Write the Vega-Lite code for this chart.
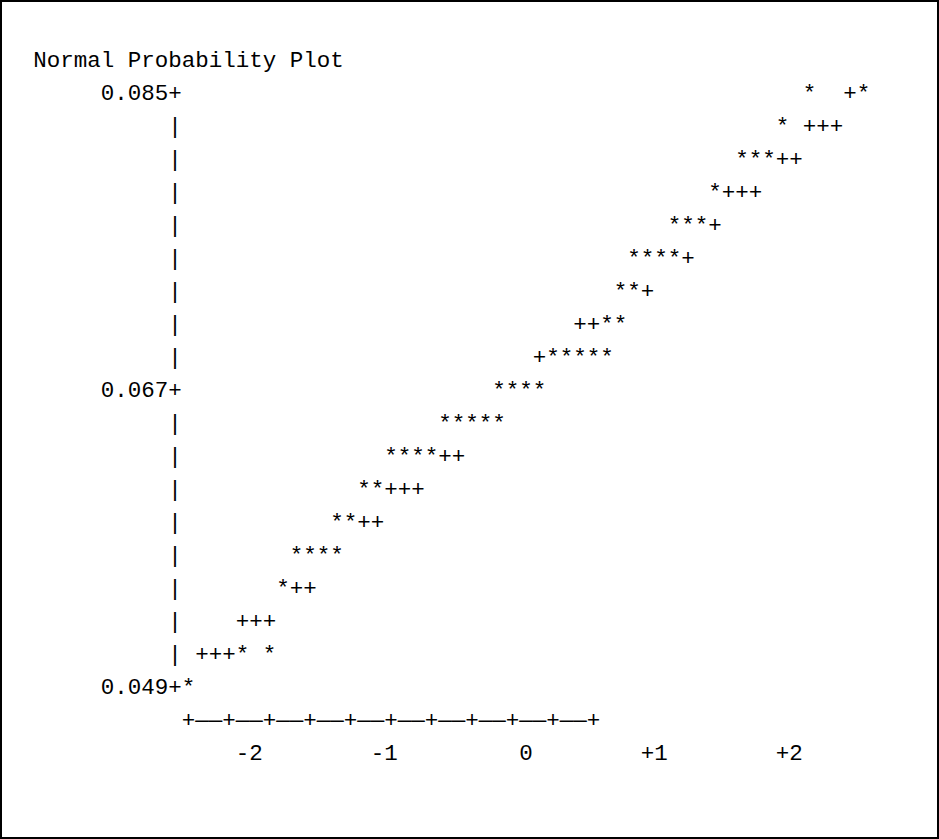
{
  "$schema": "https://vega.github.io/schema/vega-lite/v6.json",
  "autosize": {"type": "fit", "contains": "padding"},
  "width": 939,
  "height": 839,
  "padding": 0,
  "background": "white",
  "config": {
    "view": {"stroke": "black", "strokeWidth": 4},
    "text": {"font": "Liberation Mono", "fontSize": 22.5, "baseline": "alphabetic", "fill": "black"}
  },
  "datasets": {
    "glyphs": [
      {"q": 2.1, "v": 0.085, "glyph": "*"}, {"q": 2.4, "v": 0.085, "glyph": "+"}, {"q": 2.5, "v": 0.085, "glyph": "*"},
      {"q": 1.9, "v": 0.083, "glyph": "*"}, {"q": 2.1, "v": 0.083, "glyph": "+"}, {"q": 2.2, "v": 0.083, "glyph": "+"}, {"q": 2.3, "v": 0.083, "glyph": "+"},
      {"q": 1.6, "v": 0.081, "glyph": "*"}, {"q": 1.7, "v": 0.081, "glyph": "*"}, {"q": 1.8, "v": 0.081, "glyph": "*"}, {"q": 1.9, "v": 0.081, "glyph": "+"}, {"q": 2.0, "v": 0.081, "glyph": "+"},
      {"q": 1.4, "v": 0.079, "glyph": "*"}, {"q": 1.5, "v": 0.079, "glyph": "+"}, {"q": 1.6, "v": 0.079, "glyph": "+"}, {"q": 1.7, "v": 0.079, "glyph": "+"},
      {"q": 1.1, "v": 0.077, "glyph": "*"}, {"q": 1.2, "v": 0.077, "glyph": "*"}, {"q": 1.3, "v": 0.077, "glyph": "*"}, {"q": 1.4, "v": 0.077, "glyph": "+"},
      {"q": 0.8, "v": 0.075, "glyph": "*"}, {"q": 0.9, "v": 0.075, "glyph": "*"}, {"q": 1.0, "v": 0.075, "glyph": "*"}, {"q": 1.1, "v": 0.075, "glyph": "*"}, {"q": 1.2, "v": 0.075, "glyph": "+"},
      {"q": 0.7, "v": 0.073, "glyph": "*"}, {"q": 0.8, "v": 0.073, "glyph": "*"}, {"q": 0.9, "v": 0.073, "glyph": "+"},
      {"q": 0.4, "v": 0.071, "glyph": "+"}, {"q": 0.5, "v": 0.071, "glyph": "+"}, {"q": 0.6, "v": 0.071, "glyph": "*"}, {"q": 0.7, "v": 0.071, "glyph": "*"},
      {"q": 0.1, "v": 0.069, "glyph": "+"}, {"q": 0.2, "v": 0.069, "glyph": "*"}, {"q": 0.3, "v": 0.069, "glyph": "*"}, {"q": 0.4, "v": 0.069, "glyph": "*"}, {"q": 0.5, "v": 0.069, "glyph": "*"}, {"q": 0.6, "v": 0.069, "glyph": "*"},
      {"q": -0.2, "v": 0.067, "glyph": "*"}, {"q": -0.1, "v": 0.067, "glyph": "*"}, {"q": 0.0, "v": 0.067, "glyph": "*"}, {"q": 0.1, "v": 0.067, "glyph": "*"},
      {"q": -0.6, "v": 0.065, "glyph": "*"}, {"q": -0.5, "v": 0.065, "glyph": "*"}, {"q": -0.4, "v": 0.065, "glyph": "*"}, {"q": -0.3, "v": 0.065, "glyph": "*"}, {"q": -0.2, "v": 0.065, "glyph": "*"},
      {"q": -1.0, "v": 0.063, "glyph": "*"}, {"q": -0.9, "v": 0.063, "glyph": "*"}, {"q": -0.8, "v": 0.063, "glyph": "*"}, {"q": -0.7, "v": 0.063, "glyph": "*"}, {"q": -0.6, "v": 0.063, "glyph": "+"}, {"q": -0.5, "v": 0.063, "glyph": "+"},
      {"q": -1.2, "v": 0.061, "glyph": "*"}, {"q": -1.1, "v": 0.061, "glyph": "*"}, {"q": -1.0, "v": 0.061, "glyph": "+"}, {"q": -0.9, "v": 0.061, "glyph": "+"}, {"q": -0.8, "v": 0.061, "glyph": "+"},
      {"q": -1.4, "v": 0.059, "glyph": "*"}, {"q": -1.3, "v": 0.059, "glyph": "*"}, {"q": -1.2, "v": 0.059, "glyph": "+"}, {"q": -1.1, "v": 0.059, "glyph": "+"},
      {"q": -1.7, "v": 0.057, "glyph": "*"}, {"q": -1.6, "v": 0.057, "glyph": "*"}, {"q": -1.5, "v": 0.057, "glyph": "*"}, {"q": -1.4, "v": 0.057, "glyph": "*"},
      {"q": -1.8, "v": 0.055, "glyph": "*"}, {"q": -1.7, "v": 0.055, "glyph": "+"}, {"q": -1.6, "v": 0.055, "glyph": "+"},
      {"q": -2.1, "v": 0.053, "glyph": "+"}, {"q": -2.0, "v": 0.053, "glyph": "+"}, {"q": -1.9, "v": 0.053, "glyph": "+"},
      {"q": -2.4, "v": 0.051, "glyph": "+"}, {"q": -2.3, "v": 0.051, "glyph": "+"}, {"q": -2.2, "v": 0.051, "glyph": "+"}, {"q": -2.1, "v": 0.051, "glyph": "*"}, {"q": -1.9, "v": 0.051, "glyph": "*"},
      {"q": -2.5, "v": 0.049, "glyph": "*"},
      {"q": -2.6, "v": 0.083, "glyph": "|"}, {"q": -2.6, "v": 0.081, "glyph": "|"}, {"q": -2.6, "v": 0.079, "glyph": "|"}, {"q": -2.6, "v": 0.077, "glyph": "|"},
      {"q": -2.6, "v": 0.075, "glyph": "|"}, {"q": -2.6, "v": 0.073, "glyph": "|"}, {"q": -2.6, "v": 0.071, "glyph": "|"}, {"q": -2.6, "v": 0.069, "glyph": "|"},
      {"q": -2.6, "v": 0.065, "glyph": "|"}, {"q": -2.6, "v": 0.063, "glyph": "|"}, {"q": -2.6, "v": 0.061, "glyph": "|"}, {"q": -2.6, "v": 0.059, "glyph": "|"},
      {"q": -2.6, "v": 0.057, "glyph": "|"}, {"q": -2.6, "v": 0.055, "glyph": "|"}, {"q": -2.6, "v": 0.053, "glyph": "|"}, {"q": -2.6, "v": 0.051, "glyph": "|"}
    ],
    "ylabels": [
      {"v": 0.085, "label": "0.085+"},
      {"v": 0.067, "label": "0.067+"},
      {"v": 0.049, "label": "0.049+"}
    ],
    "xlabels": [
      {"q": -2, "label": "-2"},
      {"q": -1, "label": "-1"},
      {"q": 0, "label": "0"},
      {"q": 1, "label": "+1"},
      {"q": 2, "label": "+2"}
    ]
  },
  "layer": [
    {
      "data": {"name": "glyphs"},
      "mark": {"type": "text", "align": "center"},
      "encoding": {
        "x": {"field": "q", "type": "quantitative", "scale": {"domain": [-3.896296, 3.059259], "nice": false, "zero": false}, "axis": null},
        "y": {"field": "v", "type": "quantitative", "scale": {"domain": [0.0402121, 0.0910606], "nice": false, "zero": false}, "axis": null},
        "text": {"field": "glyph"}
      }
    },
    {
      "data": {"name": "ylabels"},
      "mark": {"type": "text", "align": "right", "dx": 6.75},
      "encoding": {
        "x": {"datum": -2.6, "type": "quantitative"},
        "y": {"field": "v", "type": "quantitative"},
        "text": {"field": "label"}
      }
    },
    {
      "data": {"name": "xlabels"},
      "mark": {"type": "text", "align": "right", "dx": 6.75},
      "encoding": {
        "x": {"field": "q", "type": "quantitative"},
        "y": {"datum": 0.045, "type": "quantitative"},
        "text": {"field": "label"}
      }
    },
    {
      "data": {"values": [{"axisline": "+——+——+——+——+——+——+——+——+——+——+"}]},
      "mark": {"type": "text", "align": "left", "dx": -6.75},
      "encoding": {
        "x": {"datum": -2.5, "type": "quantitative"},
        "y": {"datum": 0.047, "type": "quantitative"},
        "text": {"field": "axisline"}
      }
    },
    {
      "data": {"values": [{"title": "Normal Probability Plot"}]},
      "mark": {"type": "text", "align": "left"},
      "encoding": {
        "x": {"datum": -3.65, "type": "quantitative"},
        "y": {"datum": 0.087, "type": "quantitative"},
        "text": {"field": "title"}
      }
    }
  ]
}
